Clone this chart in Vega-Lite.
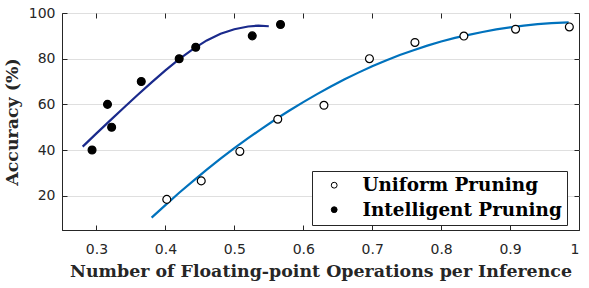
{
  "$schema": "https://vega.github.io/schema/vega-lite/v6.json",
  "width": 517,
  "height": 217,
  "autosize": "none",
  "padding": {"left": 62, "top": 13, "right": 10, "bottom": 58},
  "background": "white",
  "config": {
    "view": {"stroke": "#262626", "strokeWidth": 1},
    "axis": {
      "labelFont": "DejaVu Sans",
      "labelFontSize": 14,
      "labelColor": "#262626",
      "titleFont": "DejaVu Serif",
      "titleFontWeight": "bold",
      "titleFontSize": 17.4,
      "titleColor": "#262626",
      "domainColor": "#262626",
      "tickColor": "#262626"
    }
  },
  "datasets": {
    "points": [
      {"flops": 0.402, "acc": 18.4, "method": "Uniform Pruning"},
      {"flops": 0.452, "acc": 26.5, "method": "Uniform Pruning"},
      {"flops": 0.508, "acc": 39.4, "method": "Uniform Pruning"},
      {"flops": 0.563, "acc": 53.5, "method": "Uniform Pruning"},
      {"flops": 0.630, "acc": 59.6, "method": "Uniform Pruning"},
      {"flops": 0.696, "acc": 80.0, "method": "Uniform Pruning"},
      {"flops": 0.762, "acc": 87.1, "method": "Uniform Pruning"},
      {"flops": 0.833, "acc": 89.9, "method": "Uniform Pruning"},
      {"flops": 0.908, "acc": 92.9, "method": "Uniform Pruning"},
      {"flops": 0.986, "acc": 93.9, "method": "Uniform Pruning"},
      {"flops": 0.2936, "acc": 40, "method": "Intelligent Pruning"},
      {"flops": 0.316, "acc": 60, "method": "Intelligent Pruning"},
      {"flops": 0.322, "acc": 50, "method": "Intelligent Pruning"},
      {"flops": 0.365, "acc": 70, "method": "Intelligent Pruning"},
      {"flops": 0.420, "acc": 80, "method": "Intelligent Pruning"},
      {"flops": 0.444, "acc": 85, "method": "Intelligent Pruning"},
      {"flops": 0.526, "acc": 90, "method": "Intelligent Pruning"},
      {"flops": 0.567, "acc": 95, "method": "Intelligent Pruning"}
    ],
    "curves": [
      {"flops": 0.38, "acc": 10.4, "fit": "Uniform fit"},
      {"flops": 0.40, "acc": 15.9, "fit": "Uniform fit"},
      {"flops": 0.42, "acc": 21.3, "fit": "Uniform fit"},
      {"flops": 0.44, "acc": 26.4, "fit": "Uniform fit"},
      {"flops": 0.46, "acc": 31.4, "fit": "Uniform fit"},
      {"flops": 0.48, "acc": 36.2, "fit": "Uniform fit"},
      {"flops": 0.50, "acc": 40.8, "fit": "Uniform fit"},
      {"flops": 0.52, "acc": 45.2, "fit": "Uniform fit"},
      {"flops": 0.54, "acc": 49.4, "fit": "Uniform fit"},
      {"flops": 0.56, "acc": 53.5, "fit": "Uniform fit"},
      {"flops": 0.58, "acc": 57.3, "fit": "Uniform fit"},
      {"flops": 0.60, "acc": 61.0, "fit": "Uniform fit"},
      {"flops": 0.62, "acc": 64.5, "fit": "Uniform fit"},
      {"flops": 0.64, "acc": 67.8, "fit": "Uniform fit"},
      {"flops": 0.66, "acc": 71.0, "fit": "Uniform fit"},
      {"flops": 0.68, "acc": 73.9, "fit": "Uniform fit"},
      {"flops": 0.70, "acc": 76.7, "fit": "Uniform fit"},
      {"flops": 0.72, "acc": 79.2, "fit": "Uniform fit"},
      {"flops": 0.74, "acc": 81.6, "fit": "Uniform fit"},
      {"flops": 0.76, "acc": 83.7, "fit": "Uniform fit"},
      {"flops": 0.78, "acc": 85.7, "fit": "Uniform fit"},
      {"flops": 0.80, "acc": 87.5, "fit": "Uniform fit"},
      {"flops": 0.82, "acc": 89.1, "fit": "Uniform fit"},
      {"flops": 0.84, "acc": 90.4, "fit": "Uniform fit"},
      {"flops": 0.86, "acc": 91.7, "fit": "Uniform fit"},
      {"flops": 0.88, "acc": 92.8, "fit": "Uniform fit"},
      {"flops": 0.90, "acc": 93.7, "fit": "Uniform fit"},
      {"flops": 0.92, "acc": 94.5, "fit": "Uniform fit"},
      {"flops": 0.94, "acc": 95.1, "fit": "Uniform fit"},
      {"flops": 0.96, "acc": 95.6, "fit": "Uniform fit"},
      {"flops": 0.985, "acc": 95.9, "fit": "Uniform fit"},
      {"flops": 0.28, "acc": 41.5, "fit": "Intelligent fit"},
      {"flops": 0.30, "acc": 47.3, "fit": "Intelligent fit"},
      {"flops": 0.32, "acc": 53.0, "fit": "Intelligent fit"},
      {"flops": 0.34, "acc": 58.6, "fit": "Intelligent fit"},
      {"flops": 0.36, "acc": 64.2, "fit": "Intelligent fit"},
      {"flops": 0.38, "acc": 69.6, "fit": "Intelligent fit"},
      {"flops": 0.40, "acc": 74.9, "fit": "Intelligent fit"},
      {"flops": 0.42, "acc": 79.8, "fit": "Intelligent fit"},
      {"flops": 0.44, "acc": 84.2, "fit": "Intelligent fit"},
      {"flops": 0.46, "acc": 88.0, "fit": "Intelligent fit"},
      {"flops": 0.48, "acc": 90.9, "fit": "Intelligent fit"},
      {"flops": 0.50, "acc": 92.9, "fit": "Intelligent fit"},
      {"flops": 0.52, "acc": 94.1, "fit": "Intelligent fit"},
      {"flops": 0.535, "acc": 94.5, "fit": "Intelligent fit"},
      {"flops": 0.55, "acc": 94.2, "fit": "Intelligent fit"}
    ]
  },
  "layer": [
    {
      "data": {"name": "curves"},
      "mark": {"type": "line", "strokeWidth": 2.2, "clip": true},
      "encoding": {
        "x": {
          "field": "flops", "type": "quantitative",
          "scale": {"domain": [0.25, 1.0], "nice": false, "zero": false},
          "axis": {
            "orient": "bottom",
            "title": "Number of Floating-point Operations per Inference",
            "values": [0.3, 0.4, 0.5, 0.6, 0.7, 0.8, 0.9, 1.0],
            "format": "~g",
            "grid": false,
            "tickSize": -5,
            "labelPadding": 17,
            "titlePadding": 6
          }
        },
        "y": {
          "field": "acc", "type": "quantitative",
          "scale": {"domain": [5, 100], "nice": false, "zero": false},
          "axis": {
            "orient": "left",
            "title": "Accuracy (%)",
            "values": [20, 40, 60, 80, 100],
            "grid": true,
            "gridColor": "#dfdfdf",
            "gridWidth": 1,
            "tickSize": -5,
            "labelPadding": 12,
            "titlePadding": 7
          }
        },
        "color": {
          "field": "fit", "type": "nominal",
          "scale": {"domain": ["Uniform fit", "Intelligent fit"], "range": ["#0072BD", "#1A2A8C"]},
          "legend": null
        }
      }
    },
    {
      "data": {"name": "points"},
      "mark": {"type": "point", "shape": "circle", "filled": true, "size": 62, "stroke": "black", "strokeWidth": 1.2, "opacity": 1},
      "encoding": {
        "x": {"field": "flops", "type": "quantitative", "axis": null},
        "y": {"field": "acc", "type": "quantitative", "axis": null},
        "fill": {
          "field": "method", "type": "nominal",
          "scale": {"domain": ["Uniform Pruning", "Intelligent Pruning"], "range": ["white", "black"]},
          "legend": {
            "title": null,
            "orient": "none",
            "legendX": 250,
            "legendY": 158,
            "padding": 5,
            "strokeColor": "#262626",
            "fillColor": "white",
            "labelFont": "DejaVu Serif",
            "labelFontWeight": "bold",
            "labelFontSize": 18.4,
            "labelColor": "black",
            "labelLimit": 400,
            "symbolType": "circle",
            "symbolSize": 34,
            "symbolStrokeColor": "black",
            "symbolStrokeWidth": 1,
            "symbolOffset": 8,
            "labelOffset": 19,
            "rowPadding": 5.5
          }
        }
      }
    },
    {
      "data": {"name": "points"},
      "mark": {"type": "point", "opacity": 0},
      "encoding": {
        "x": {
          "field": "flops", "type": "quantitative",
          "axis": {"orient": "top", "title": null, "labels": false, "grid": false, "domain": false,
                   "values": [0.3, 0.4, 0.5, 0.6, 0.7, 0.8, 0.9, 1.0], "tickSize": -5}
        },
        "y": {
          "field": "acc", "type": "quantitative",
          "axis": {"orient": "right", "title": null, "labels": false, "grid": false, "domain": false,
                   "values": [20, 40, 60, 80, 100], "tickSize": -5}
        }
      }
    }
  ],
  "resolve": {"axis": {"x": "independent", "y": "independent"}}
}
